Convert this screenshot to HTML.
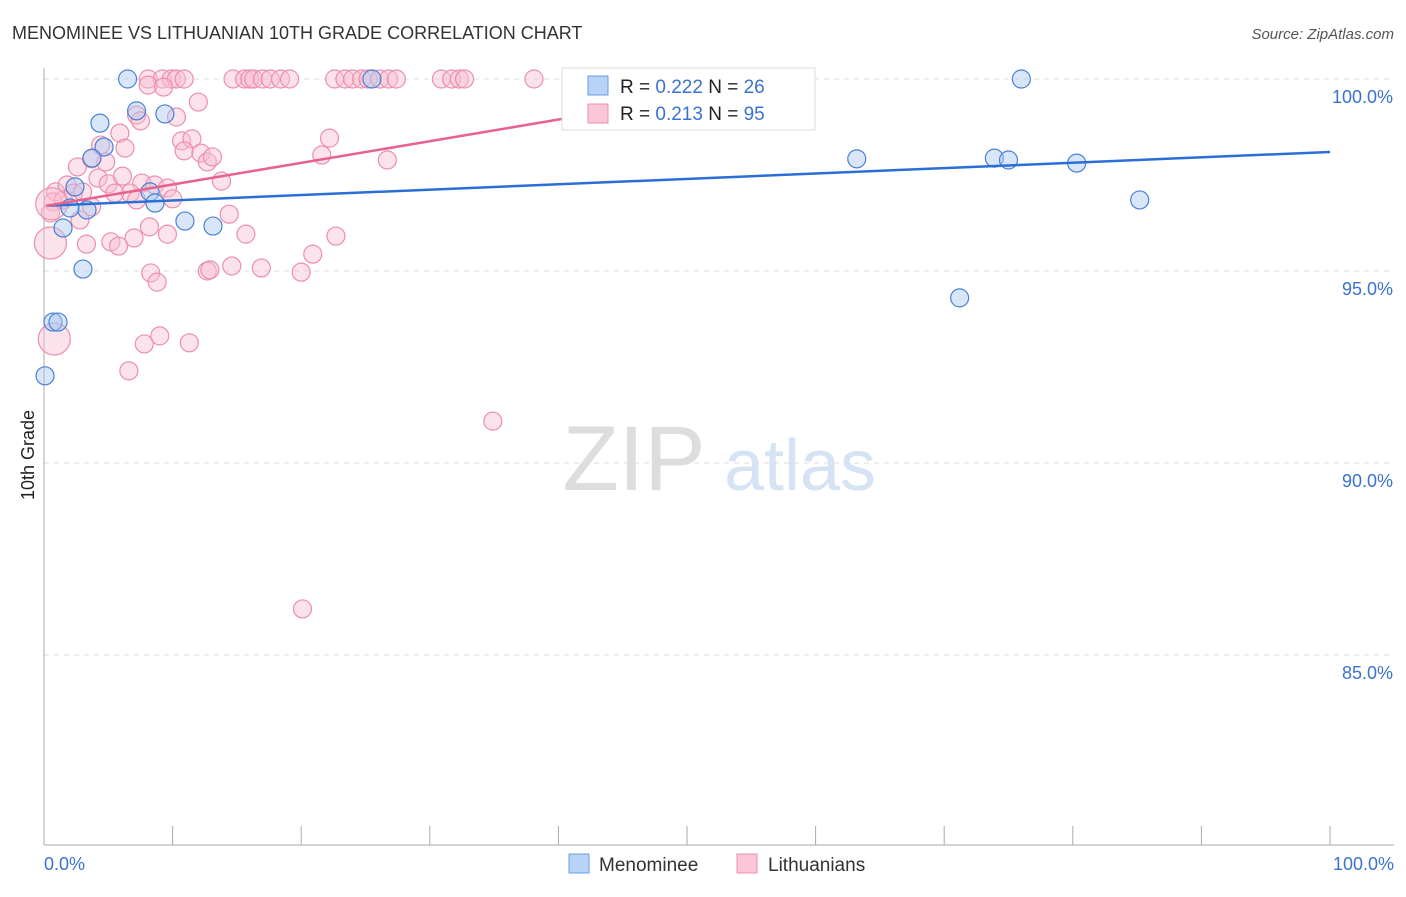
<!DOCTYPE html>
<html><head><meta charset="utf-8"><style>
body{margin:0;background:#fff;font-family:"Liberation Sans",sans-serif}
svg text{font-family:"Liberation Sans",sans-serif}
</style></head><body>
<svg id="c" width="1406" height="892" viewBox="0 0 1406 892">
<text x="12" y="39" font-size="18" fill="#333">MENOMINEE VS LITHUANIAN 10TH GRADE CORRELATION CHART</text>
<text x="1394" y="39" font-size="15" fill="#555" font-style="italic" text-anchor="end">Source: ZipAtlas.com</text>
<text x="34" y="455" font-size="18" fill="#222" transform="rotate(-90 34 455)" text-anchor="middle">10th Grade</text>
<g><text x="634" y="490" font-size="92" fill="#ddd" font-family="Liberation Serif" text-anchor="middle">ZIP</text><text x="800" y="490" font-size="72" fill="#d5e3f5" text-anchor="middle">atlas</text></g>
<g id="grid"></g><g id="axes"></g><g id="pts"></g><g id="lines"></g>
<g>
<rect x="562" y="68" width="253" height="62" fill="#fff" stroke="#ddd"/>
<rect x="588" y="76" width="20" height="19" fill="#b8d3f5" stroke="#6a9ee0"/>
<rect x="588" y="104" width="20" height="19" fill="#fbc6d6" stroke="#ee8fb0"/>
<text x="620" y="93" font-size="19" fill="#222">R = <tspan fill="#3a72d0">0.222</tspan>   N = <tspan fill="#3a72d0">26</tspan></text>
<text x="620" y="120" font-size="19" fill="#222">R =  <tspan fill="#3a72d0">0.213</tspan>   N = <tspan fill="#3a72d0">95</tspan></text>
</g>
<g>
<rect x="569" y="854" width="20" height="19" fill="#b8d3f5" stroke="#6a9ee0"/>
<text x="599" y="871" font-size="19" fill="#333">Menominee</text>
<rect x="737" y="854" width="20" height="19" fill="#fbc6d6" stroke="#ee8fb0"/>
<text x="768" y="871" font-size="19" fill="#333">Lithuanians</text>
</g>
</svg>
<script>
const yTicks=[100,95,90,85];
const yTickLabels=["100.0%","95.0%","90.0%","85.0%"];
const xTickLabels=["0.0%","100.0%"];
const blueX=[6.5,76.0,25.5,7.2,9.4,4.35,4.67,3.73,63.2,73.9,75.0,80.3,2.41,8.24,8.63,3.34,2.02,85.2,10.96,13.14,1.48,3.03,71.2,0.70,1.09,0.08];
const blueY=[100,100,100,99.17,99.09,98.85,98.23,97.94,97.92,97.94,97.89,97.81,97.19,97.06,96.77,96.59,96.64,96.85,96.30,96.17,96.12,95.05,94.30,93.67,93.67,92.27];
const pinkX=[8.1,9.2,9.9,10.3,10.9,14.7,15.6,16.0,16.3,17.0,17.6,18.4,19.1,22.6,23.4,24.0,24.7,25.2,26.1,26.8,27.4,30.9,31.7,32.3,32.7,38.1,8.1,9.3,12.0,7.2,7.5,10.3,5.9,4.4,6.3,10.7,11.5,10.9,12.2,12.7,13.1,22.2,21.6,26.7,2.6,4.8,3.7,4.2,5.0,6.1,7.6,8.6,9.6,6.7,5.5,7.2,10.0,13.8,0.9,1.8,0.7,1.5,2.3,3.0,0.5,2.8,3.7,14.4,15.7,22.7,8.2,9.6,7.0,5.2,5.8,3.3,20.9,8.3,8.8,12.7,12.9,14.6,16.9,20.0,7.8,9.0,11.3,6.6,34.9,20.1];
const pinkY=[100,100,100,100,100,100,100,100,100,100,100,100,100,100,100,100,100,100,100,100,100,100,100,100,100,100,99.84,99.79,99.40,99.06,98.91,99.01,98.59,98.28,98.20,98.39,98.44,98.13,98.07,97.84,97.97,98.46,98.02,97.89,97.71,97.84,97.92,97.42,97.27,97.47,97.29,97.24,97.16,97.03,97.03,96.85,96.88,97.34,97.06,97.24,96.80,96.85,97.03,97.06,96.51,96.33,96.67,96.48,95.96,95.91,96.15,95.96,95.86,95.76,95.65,95.70,95.44,94.95,94.71,95.00,95.03,95.13,95.08,94.97,93.10,93.31,93.13,92.40,91.09,86.20];
const pinkBigX=[0.5,0.8,0.6];
const pinkBigY=[95.73,93.23,96.75];
const blueTrend=[96.7,98.1];
const pinkTrend=[96.7,99.0];const pinkTrendEnd=41;
const X=v=>44+v*12.86, Y=v=>79+(100-v)*38.4;
const NS="http://www.w3.org/2000/svg";
function mk(t,a,p){const e=document.createElementNS(NS,t);for(const k in a)e.setAttribute(k,a[k]);p.appendChild(e);return e;}
const g=document.getElementById('grid'),ax=document.getElementById('axes'),pts=document.getElementById('pts'),ln=document.getElementById('lines');
yTicks.forEach((v,i)=>{const l=mk('line',{x1:44,x2:1394,y1:Y(v),y2:Y(v),stroke:'#ddd','stroke-dasharray':'5,5'},g);


const t=mk('text',{x:1393,y:Y(v)+24,'font-size':18,fill:'#3a72d0','text-anchor':'end'},ax);t.textContent=yTickLabels[i];

});
const ya=mk('line',{x1:44,x2:44,y1:68,y2:845,stroke:'#aaa'},ax);


const xa=mk('line',{x1:44,x2:1394,y1:845,y2:845,stroke:'#aaa'},ax);


for(let i=0;i<=10;i++){const t=mk('line',{x1:X(i*10),x2:X(i*10),y1:826,y2:845,stroke:'#aaa'},ax);

}
[[0,'start',44],[100,'end',1394]].forEach((d,i)=>{const t=mk('text',{x:d[2],y:870,'font-size':18,fill:'#3a72d0','text-anchor':d[1]},ax);t.textContent=xTickLabels[i];

});
function dot(x,y,r,f,s,name){const c=mk('circle',{cx:X(x),cy:Y(y),r:r,fill:f,'fill-opacity':0.45,stroke:s,'stroke-width':1.2},pts);

}
pinkX.forEach((x,i)=>dot(x,pinkY[i],9,'#f8bfd0','#ec8eaf','lithuanians-point'));
pinkBigX.forEach((x,i)=>dot(x,pinkBigY[i],16,'#f8bfd0','#ec8eaf','lithuanians-point'));
blueX.forEach((x,i)=>dot(x,blueY[i],9,'#aac8f0','#4a80d8','menominee-point'));
const bl=mk('line',{x1:X(0.2),y1:Y(blueTrend[0]),x2:X(100),y2:Y(blueTrend[1]),stroke:'#2a6fd6','stroke-width':2.5},ln);


const pl=mk('line',{x1:X(0.2),y1:Y(pinkTrend[0]),x2:X(pinkTrendEnd),y2:Y(pinkTrend[1]),stroke:'#e8628e','stroke-width':2.5},ln);


</script>
</body></html>
